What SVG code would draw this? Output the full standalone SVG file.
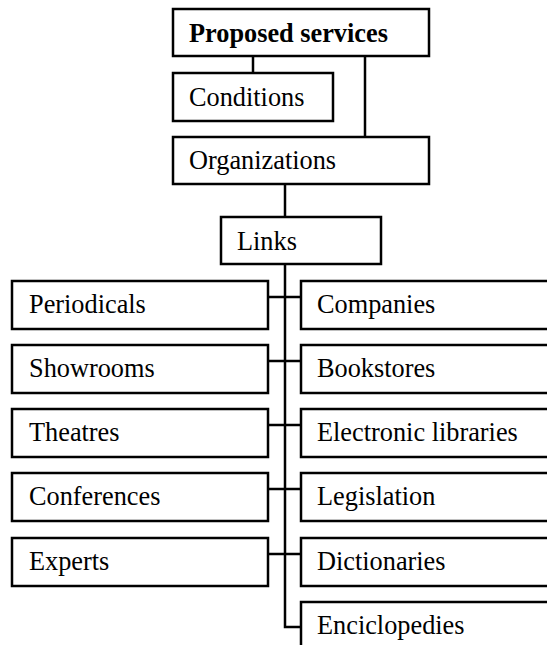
<svg xmlns="http://www.w3.org/2000/svg" width="547" height="645" viewBox="0 0 547 645">
  <style>
    .box { fill: #ffffff; stroke: #000000; stroke-width: 2.5; }
    .wire { fill: none; stroke: #000000; stroke-width: 2.5; }
    text { font-family: "Liberation Serif", "Times New Roman", serif; font-size: 26.3px; fill: #000000; }
    .bold { font-weight: bold; }
  </style>
  <rect width="547" height="645" fill="#ffffff"/>

  <!-- connectors -->
  <g id="connectors">
    <line class="wire" x1="253" y1="56" x2="253" y2="73"/>
    <line class="wire" x1="365" y1="56" x2="365" y2="137"/>
    <line class="wire" x1="285" y1="184" x2="285" y2="217"/>
    <!-- trunk below Links, ending in an elbow to the last item -->
    <polyline class="wire" points="285,264 285,627 301,627"/>
    <!-- branches to both columns -->
    <line class="wire" x1="268" y1="297" x2="301" y2="297"/>
    <line class="wire" x1="268" y1="361" x2="301" y2="361"/>
    <line class="wire" x1="268" y1="425" x2="301" y2="425"/>
    <line class="wire" x1="268" y1="489" x2="301" y2="489"/>
    <line class="wire" x1="268" y1="554" x2="301" y2="554"/>
  </g>

  <!-- top chain -->
  <g id="proposed-services">
    <rect class="box" x="173" y="9" width="256" height="47"/>
    <text class="bold" x="189" y="42">Proposed services</text>
  </g>
  <g id="conditions">
    <rect class="box" x="173" y="73" width="160" height="48"/>
    <text x="189" y="106">Conditions</text>
  </g>
  <g id="organizations">
    <rect class="box" x="173" y="137" width="256" height="47"/>
    <text x="189" y="169">Organizations</text>
  </g>
  <g id="links">
    <rect class="box" x="221" y="217" width="160" height="47"/>
    <text x="237" y="250">Links</text>
  </g>

  <!-- left column -->
  <g id="periodicals">
    <rect class="box" x="12" y="281" width="256" height="48"/>
    <text x="29" y="313">Periodicals</text>
  </g>
  <g id="showrooms">
    <rect class="box" x="12" y="345" width="256" height="48"/>
    <text x="29" y="377">Showrooms</text>
  </g>
  <g id="theatres">
    <rect class="box" x="12" y="409" width="256" height="48"/>
    <text x="29" y="441">Theatres</text>
  </g>
  <g id="conferences">
    <rect class="box" x="12" y="473" width="256" height="48"/>
    <text x="29" y="505">Conferences</text>
  </g>
  <g id="experts">
    <rect class="box" x="12" y="538" width="256" height="48"/>
    <text x="29" y="570">Experts</text>
  </g>

  <!-- right column (runs past the right edge) -->
  <g id="companies">
    <rect class="box" x="301" y="281" width="260" height="48"/>
    <text x="317" y="313">Companies</text>
  </g>
  <g id="bookstores">
    <rect class="box" x="301" y="345" width="260" height="48"/>
    <text x="317" y="377">Bookstores</text>
  </g>
  <g id="electronic-libraries">
    <rect class="box" x="301" y="409" width="260" height="48"/>
    <text x="317" y="441">Electronic libraries</text>
  </g>
  <g id="legislation">
    <rect class="box" x="301" y="473" width="260" height="48"/>
    <text x="317" y="505">Legislation</text>
  </g>
  <g id="dictionaries">
    <rect class="box" x="301" y="538" width="260" height="48"/>
    <text x="317" y="570">Dictionaries</text>
  </g>
  <g id="enciclopedies">
    <rect class="box" x="301" y="602" width="260" height="60"/>
    <text x="317" y="634">Enciclopedies</text>
  </g>
</svg>
